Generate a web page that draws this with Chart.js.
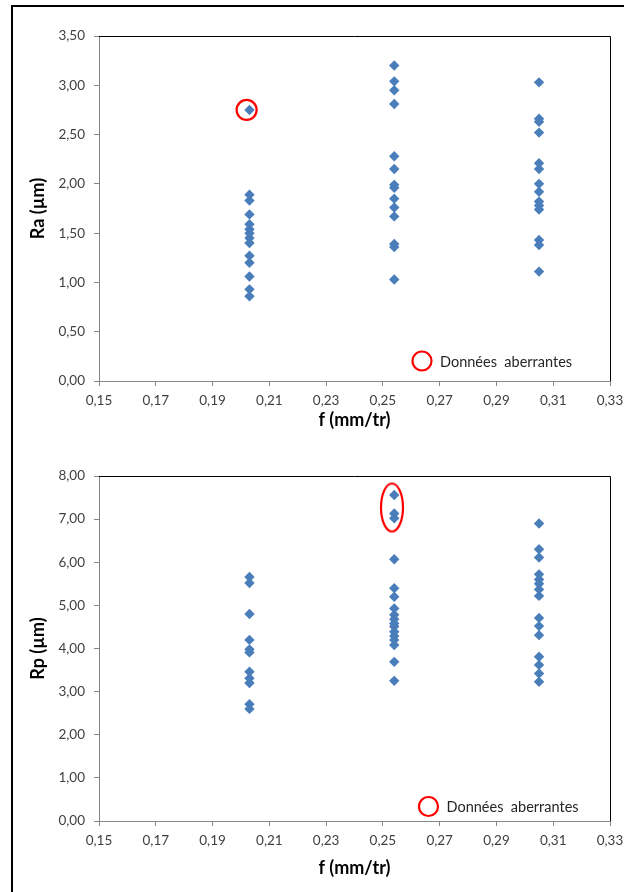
<!DOCTYPE html>
<html>
<head>
<meta charset="utf-8">
<script src="https://cdn.jsdelivr.net/npm/chart.js@4.4.1/dist/chart.umd.min.js"></script>
<style>
html,body{margin:0;padding:0;background:#fff;}
body{width:624px;height:892px;overflow:hidden;position:relative;}
#frame{position:absolute;left:11px;top:5px;width:800px;height:1000px;border-left:2px solid #000;border-top:2px solid #000;}
canvas{position:absolute;left:0;}
#raChart{top:0;}
#rpChart{top:440px;}
</style>
</head>
<body>
<div id="frame"></div>
<canvas id="raChart" width="640" height="440"></canvas>
<canvas id="rpChart" width="640" height="452"></canvas>
<script>
// avances (mm/tr)
const feedRates=[0.203,0.254,0.305];
const xTicks=[0.15,0.17,0.19,0.21,0.23,0.25,0.27,0.29,0.31,0.33];

// Ra (µm) pour chaque avance
const raF1=[2.75,1.89,1.83,1.69,1.59,1.54,1.50,1.45,1.40,1.27,1.20,1.06,0.93,0.86];
const raF2=[3.20,3.04,2.95,2.81,2.28,2.15,1.99,1.96,1.85,1.76,1.67,1.39,1.36,1.03];
const raF3=[3.03,2.66,2.63,2.52,2.21,2.15,2.00,1.92,1.82,1.78,1.74,1.43,1.38,1.11];
const raTicks=[0,0.5,1,1.5,2,2.5,3,3.5];
const raOutlierF=[0.202];
const raOutlierVal=[2.75];

// Rp (µm) pour chaque avance
const rpF1=[5.66,5.52,4.80,4.20,3.98,3.91,3.46,3.31,3.20,2.71,2.60];
const rpF2=[7.56,7.13,7.02,6.07,5.40,5.20,4.93,4.78,4.68,4.58,4.51,4.39,4.29,4.20,4.08,3.69,3.25];
const rpF3=[6.90,6.30,6.11,5.72,5.60,5.50,5.37,5.22,4.71,4.52,4.31,3.81,3.62,3.42,3.23];
const rpTicks=[0,1,2,3,4,5,6,7,8];
const rpOutlierF=[0.2532];
const rpOutlierVal=[7.27];

const legendLabel="Données  aberrantes";

const BLUE='#4a7ebb';
const RED='#ff0000';
const AXIS='#868686';
const TXT='#404040';
const FONT='Lato, "Open Sans", sans-serif';

function toPoints(series){
    return feedRates.flatMap((f,i)=>series[i].map(v=>({x:f,y:v})));
}
function comma(v){return v.toFixed(2).replace('.',',');}

// ellipse used around the Rp outliers
function ellipseMarker(w,h){
    const c=document.createElement('canvas');
    c.width=w+4; c.height=h+4;
    const ctx=c.getContext('2d');
    ctx.strokeStyle=RED; ctx.lineWidth=2.2;
    ctx.beginPath();
    ctx.ellipse(c.width/2,c.height/2,w/2,h/2,0,0,Math.PI*2);
    ctx.stroke();
    return c;
}

// top and right border of the plot area, like excel
const plotFrame={
    id:'plotFrame',
    afterDraw(chart){
        const {ctx,chartArea:a}=chart;
        ctx.save();
        ctx.strokeStyle='#000';
        ctx.lineWidth=1;
        ctx.beginPath();
        ctx.moveTo(a.left,Math.round(a.top)+0.5);
        ctx.lineTo(Math.round(a.right)+0.5,Math.round(a.top)+0.5);
        ctx.lineTo(Math.round(a.right)+0.5,a.bottom);
        ctx.stroke();
        ctx.restore();
    }
};

// small legend inside the plot area (bottom right)
const outlierLegend={
    id:'outlierLegend',
    afterDraw(chart,args,opts){
        const {ctx,chartArea:a}=chart;
        const ds=chart.data.datasets.find(d=>d.isOutlier);
        if(!ds) return;
        const cx=a.right-opts.dx, cy=a.bottom-opts.dy;
        ctx.save();
        ctx.strokeStyle=RED; ctx.lineWidth=2.2;
        ctx.beginPath(); ctx.arc(cx,cy,9.5,0,Math.PI*2); ctx.stroke();
        ctx.fillStyle='#262626';
        ctx.font='14.5px '+FONT;
        ctx.textBaseline='middle';
        ctx.fillText(ds.label,cx+18,cy+1);
        ctx.restore();
    }
};

function makeChart(id,series,yTicks,yMax,yTitle,outF,outVal,outStyle,outRadius,titleBottom,legendPos,canvasH){
    const ctx=document.getElementById(id).getContext('2d');
    return new Chart(ctx,{
        type:'scatter',
        data:{datasets:[
            {label:legendLabel,isOutlier:true,data:outF.map((f,i)=>({x:f,y:outVal[i]})),
             pointStyle:outStyle,pointRadius:outRadius,pointBorderColor:RED,pointBorderWidth:2.2,pointBackgroundColor:'rgba(0,0,0,0)'},
            {label:yTitle,data:toPoints(series),pointStyle:'rectRot',pointRadius:5.2,
             pointBackgroundColor:BLUE,pointBorderColor:BLUE,pointBorderWidth:0}
        ]},
        options:{
            responsive:false,animation:false,devicePixelRatio:1,
            layout:{padding:{top:36,right:30,left:27,bottom:0}},
            plugins:{legend:{display:false},tooltip:{enabled:false},outlierLegend:legendPos},
            scales:{
                x:{type:'linear',min:0.15,max:0.33,
                    afterBuildTicks:s=>{s.ticks=xTicks.map(v=>({value:v}));},
                    afterFit:s=>{s.height=canvasH-381;},
                    grid:{drawOnChartArea:false,drawTicks:true,tickLength:5,color:AXIS},
                    border:{color:AXIS},
                    ticks:{callback:v=>comma(v),color:TXT,font:{family:FONT,size:13.5},padding:7,maxRotation:0,autoSkip:false},
                    title:{display:true,text:'f (mm/tr)',color:'#000',font:{family:FONT,size:18,weight:'bold'},padding:{top:0,bottom:titleBottom}}
                },
                y:{type:'linear',min:0,max:yMax,
                    afterBuildTicks:s=>{s.ticks=yTicks.map(v=>({value:v}));},
                    afterFit:s=>{s.width=72;},
                    grid:{drawOnChartArea:false,drawTicks:true,tickLength:5,color:AXIS},
                    border:{color:AXIS},
                    ticks:{callback:v=>comma(v),color:TXT,font:{family:FONT,size:13.5},padding:9},
                    title:{display:true,text:yTitle,color:'#000',font:{family:FONT,size:18,weight:'bold'},padding:0}
                }
            }
        },
        plugins:[plotFrame,outlierLegend]
    });
}

makeChart('raChart',[raF1,raF2,raF3],raTicks,3.5,'Ra (µm)',raOutlierF,raOutlierVal,'circle',10,9.2,{dx:188,dy:20},440);
makeChart('rpChart',[rpF1,rpF2,rpF3],rpTicks,8,'Rp (µm)',rpOutlierF,rpOutlierVal,ellipseMarker(22,48),12,13.2,{dx:181.5,dy:14.5},452);
</script>
</body>
</html>
